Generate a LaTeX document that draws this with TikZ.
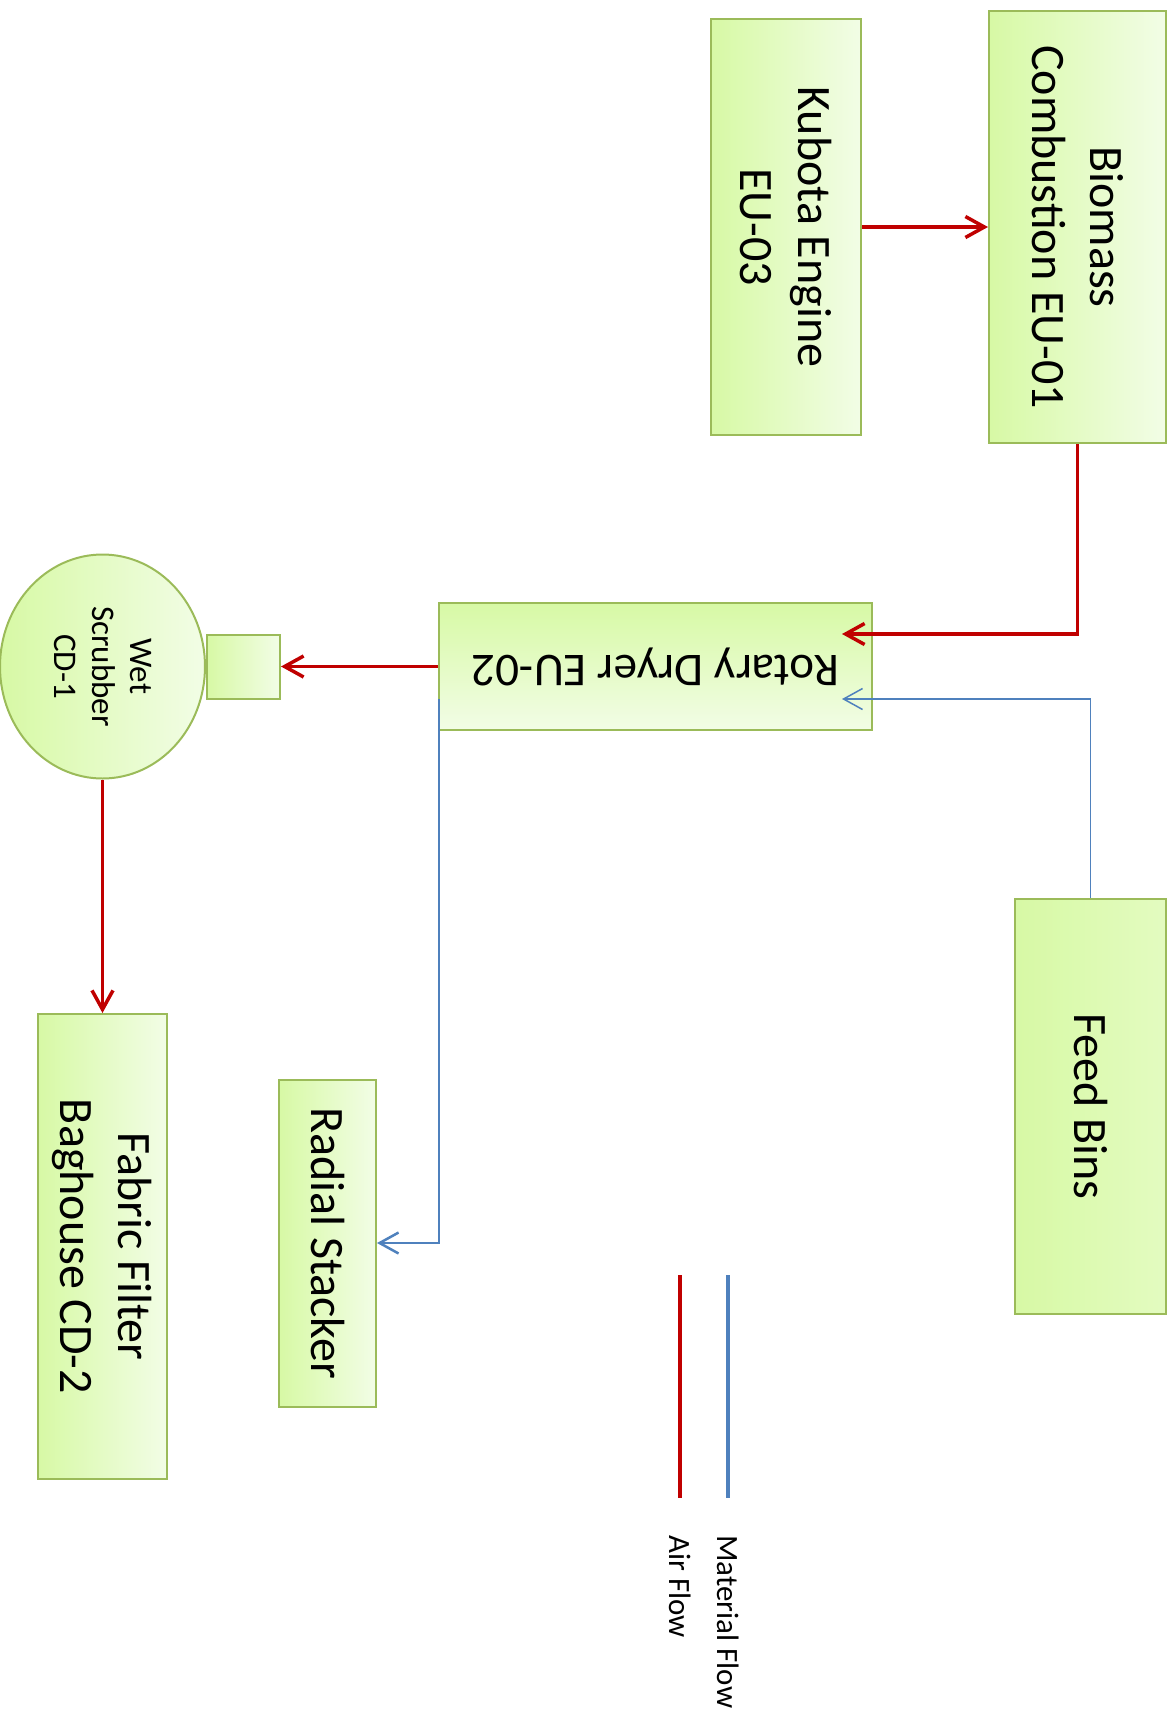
\documentclass[tikz,border=0pt]{standalone}
\usepackage{fontspec}
\setmainfont{Carlito}
\usetikzlibrary{arrows.meta}
\usetikzlibrary{shapes.geometric}
\definecolor{boxline}{HTML}{9BBB59}
\definecolor{boxdark}{HTML}{D7F9A5}
\definecolor{boxlight}{HTML}{F2FDE6}
\definecolor{binslight}{HTML}{E3FBC0}
\definecolor{airred}{HTML}{C00000}
\definecolor{matblue}{HTML}{4F81BD}

\begin{document}
\begin{tikzpicture}[x=1pt, y=-1pt,
    unit/.style={draw=boxline, line width=2pt, left color=boxdark, right color=boxlight,
      rotate=-90, align=center, inner sep=0pt},
    big/.style={font=\fontsize{48}{58}\selectfont},
    air/.style={draw=airred, line width=3.5pt, -{Straight Barb[length=19pt,width=21pt]}},
    mat/.style={draw=matblue, line width=2.5pt, -{Straight Barb[length=19pt,width=21pt]}}]
  \useasboundingbox (0,0) rectangle (1172,1733);

  \node[unit, big, minimum width=416pt, minimum height=150pt] (eng) at (786,227) {Kubota Engine\\EU-03};
  \node[unit, big, minimum width=432pt, minimum height=177pt] (burner) at (1077.5,227) {Biomass\\Combustion EU-01};
  \node[unit, big, right color=binslight, minimum width=415pt, minimum height=151pt] (bins) at (1090.5,1106.5) {Feed Bins};
  \node[draw=boxline, line width=2pt, top color=boxdark, bottom color=boxlight, rotate=180,
    inner sep=0pt, minimum width=433pt, minimum height=127pt, font=\fontsize{47}{56}\selectfont]
    (dryer) at (655.5,666.5) {Rotary Dryer EU-02};
  \node[draw=boxline, line width=2pt, left color=boxdark, right color=boxlight,
    minimum width=73pt, minimum height=64pt] (inlet) at (243.5,666.5) {};
  \node[unit, ellipse, minimum width=224pt, minimum height=205pt, font=\fontsize{33}{38}\selectfont]
    (scrub) at (102.5,666.5) {Wet\\Scrubber\\CD-1};
  \node[unit, big, minimum width=327pt, minimum height=97pt] (stack) at (327.5,1243) {Radial Stacker};
  \node[unit, big, minimum width=465pt, minimum height=129pt] (bag) at (102.5,1246.5) {Fabric Filter\\Baghouse CD-2};

  \coordinate (airin) at (842,634);
  \coordinate (matin) at (842,699);
  \coordinate (matout) at (439,699);

  \draw[air] (eng.north) -- (burner.south);
  \draw[air] (burner.east) |- (airin);
  \draw[mat, line width=1.5pt] (bins.west) |- (matin);
  \draw[air] (dryer.east) -- (inlet.east);
  \draw[mat] (matout) |- (stack.north);
  \draw[air] (scrub.east) -- (bag.west);

  \draw[airred, line width=3.5pt] (680,1275) -- (680,1498);
  \draw[matblue, line width=3.5pt] (728,1275) -- (728,1498);
  \node[rotate=-90, anchor=west, inner sep=0pt, font=\fontsize{31}{37}\selectfont] (airkey) at (680,1535) {Air Flow};
  \node[rotate=-90, anchor=west, inner sep=0pt, font=\fontsize{31}{37}\selectfont] (matkey) at (728,1535) {Material Flow};
\end{tikzpicture}
\end{document}
